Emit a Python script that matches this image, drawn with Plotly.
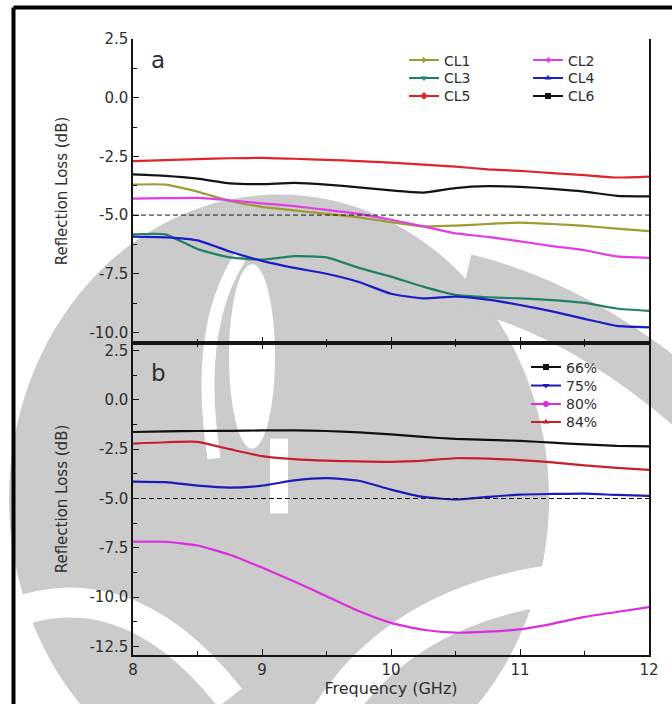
import plotly.graph_objects as go
from plotly.subplots import make_subplots

# ---------------- data ----------------
freq = [8.0, 8.25, 8.5, 8.75, 9.0, 9.25, 9.5, 9.75, 10.0, 10.25, 10.5, 10.75, 11.0, 11.25, 11.5, 11.75, 12.0]

cl1 = [-3.70, -3.70, -4.00, -4.40, -4.65, -4.80, -4.95, -5.10, -5.30, -5.48, -5.45, -5.38, -5.32, -5.38, -5.46, -5.58, -5.68]
cl2 = [-4.30, -4.28, -4.27, -4.37, -4.50, -4.62, -4.78, -4.95, -5.20, -5.48, -5.78, -5.93, -6.12, -6.32, -6.50, -6.76, -6.82]
cl3 = [-5.82, -5.82, -6.45, -6.80, -6.90, -6.75, -6.80, -7.25, -7.62, -8.05, -8.40, -8.50, -8.55, -8.62, -8.74, -8.98, -9.08]
cl4 = [-5.92, -5.95, -6.08, -6.55, -6.95, -7.25, -7.50, -7.85, -8.35, -8.55, -8.47, -8.60, -8.83, -9.10, -9.42, -9.72, -9.78]
cl5 = [-2.70, -2.66, -2.62, -2.58, -2.56, -2.60, -2.65, -2.70, -2.77, -2.85, -2.94, -3.05, -3.12, -3.21, -3.30, -3.40, -3.36]
cl6 = [-3.27, -3.33, -3.45, -3.65, -3.68, -3.63, -3.70, -3.82, -3.95, -4.04, -3.85, -3.77, -3.80, -3.88, -4.00, -4.18, -4.20]

p66 = [-1.63, -1.60, -1.58, -1.57, -1.55, -1.55, -1.58, -1.65, -1.75, -1.88, -1.98, -2.03, -2.08, -2.17, -2.26, -2.33, -2.36]
p75 = [-4.14, -4.17, -4.35, -4.45, -4.35, -4.08, -3.97, -4.10, -4.55, -4.92, -5.05, -4.92, -4.80, -4.77, -4.75, -4.82, -4.87]
p80 = [-7.19, -7.19, -7.38, -7.85, -8.50, -9.20, -9.95, -10.70, -11.30, -11.65, -11.80, -11.75, -11.63, -11.35, -11.00, -10.75, -10.50]
p84 = [-2.22, -2.15, -2.13, -2.50, -2.85, -3.00, -3.08, -3.12, -3.14, -3.08, -2.96, -2.98, -3.05, -3.17, -3.32, -3.45, -3.55]

threshold = -5.0

x_ticks = [8, 9, 10, 11, 12]
ya_ticks = [2.5, 0.0, -2.5, -5.0, -7.5, -10.0]
yb_ticks = [2.5, 0.0, -2.5, -5.0, -7.5, -10.0, -12.5]

# ---------------- geometry ----------------
W, H = 672, 704
L, R, T, B = 133, 23, 39, 47
PW, PH = W - L - R, H - T - B
top_h = 344 - T
row_heights = [top_h / PH, 1 - top_h / PH]


def px_x(x):
    return (x - L) / PW


def px_y(y):
    return (H - B - y) / PH


def svg(cmds):
    """cmds: list of (letter, [(x,y), ...]) in page pixels -> paper path string"""
    out = []
    for letter, pts in cmds:
        coords = " ".join(f"{px_x(x):.4f},{px_y(y):.4f}" for x, y in pts)
        out.append(f"{letter}{coords}")
    return " ".join(out)


FONT = "DejaVu Sans, Verdana, sans-serif"
TXT = "#2e2e2e"
AX = "#151515"
WM = "#cbcbcb"   # watermark grey

fig = make_subplots(rows=2, cols=1, shared_xaxes=True, vertical_spacing=0,
                    row_heights=row_heights)

# (name, values, colour, legend symbol, legend box left px, legend row centre px)
panel_a = [
    ("CL1", cl1, "#9c9c30", "triangle-right", 404, 60),
    ("CL2", cl2, "#e23ce8", "triangle-left", 528, 60),
    ("CL3", cl3, "#22806a", "triangle-down", 404, 78),
    ("CL4", cl4, "#1c1cc8", "triangle-up", 528, 78),
    ("CL5", cl5, "#e0242c", "diamond", 404, 96),
    ("CL6", cl6, "#141414", "square", 528, 96),
]
panel_b = [
    ("66%", p66, "#111111", "square", 526, 368),
    ("75%", p75, "#1c1cb8", "triangle-down", 526, 386.5),
    ("80%", p80, "#dc2ce0", "circle", 526, 405),
    ("84%", p84, "#c8202a", "triangle-up", 526, 423),
]

LEG_OFF = 15.5
legends = {}
k = 0
for row, group in ((1, panel_a), (2, panel_b)):
    for name, vals, col, sym, lx, ly in group:
        k += 1
        lname = "legend" if k == 1 else f"legend{k}"
        fig.add_trace(go.Scatter(x=freq, y=vals, mode="lines", name=name,
                                 line=dict(color=col, width=2.2, shape="spline", smoothing=0.5),
                                 showlegend=False), row=row, col=1)
        fig.add_trace(go.Scatter(x=[None], y=[None], mode="lines+markers", name=name,
                                 line=dict(color=col, width=2),
                                 marker=dict(symbol=sym, size=6, color=col),
                                 legend=lname, showlegend=True), row=row, col=1)
        legends[lname] = dict(bgcolor="rgba(0,0,0,0)", borderwidth=0,
                              xanchor="left", yanchor="top",
                              x=px_x(lx), y=px_y(ly - LEG_OFF),
                              font=dict(family=FONT, size=14, color=TXT),
                              itemwidth=30, orientation="v")

axis_common = dict(showline=True, linecolor=AX, linewidth=1.5, mirror=True,
                   showgrid=False, zeroline=False, ticks="inside", ticklen=6, tickwidth=1.3,
                   tickcolor=AX, tickfont=dict(family=FONT, size=15, color=TXT))

fig.update_xaxes(**axis_common, range=[8, 12], tickvals=x_ticks,
                 minor=dict(dtick=0.5, ticks="inside", ticklen=4, tickcolor=AX))
fig.update_xaxes(showticklabels=False, mirror=False, row=1, col=1)
fig.update_xaxes(mirror="ticks", row=2, col=1,
                 title=dict(text="Frequency (GHz)", font=dict(family=FONT, size=16, color=TXT), standoff=2))

fig.update_yaxes(**axis_common)
fig.update_yaxes(range=[-10.45, 2.5], tickvals=ya_ticks, ticktext=[f"{v:.1f}" for v in ya_ticks],
                 minor=dict(dtick=1.25, ticks="inside", ticklen=4, tickcolor=AX),
                 title=dict(text="Reflection Loss (dB)", font=dict(family=FONT, size=15, color=TXT), standoff=18),
                 row=1, col=1)
fig.update_yaxes(range=[-12.93, 2.88], tickvals=yb_ticks, ticktext=[f"{v:.1f}" for v in yb_ticks],
                 minor=dict(tick0=0, dtick=1.25, ticks="inside", ticklen=4, tickcolor=AX),
                 title=dict(text="Reflection Loss (dB)", font=dict(family=FONT, size=15, color=TXT), standoff=18),
                 row=2, col=1)

# ---------------- background watermark (approximate, drawn below everything) ----------------
wm = [
    # main grey body (dome reaching up into panel a)
    dict(type="circle", x0=px_x(9), x1=px_x(549), y0=px_y(195), y1=px_y(805),
         fillcolor=WM, line=dict(width=0)),
    # grey diagonal band on the right
    dict(type="path", path=svg([("M", [(465, 282)]), ("Q", [(580, 310), (690, 405)])]),
         line=dict(color=WM, width=55)),
    # white central lens
    dict(type="circle", x0=px_x(229), x1=px_x(275), y0=px_y(265), y1=px_y(450),
         fillcolor="white", line=dict(width=0)),
    # white crescent left of the lens
    dict(type="path", path=svg([("M", [(214, 460)]), ("Q", [(194, 330), (240, 258)])]),
         line=dict(color="white", width=13)),
    # white stem
    dict(type="rect", x0=px_x(270), x1=px_x(288), y0=px_y(515), y1=px_y(440),
         fillcolor="white", line=dict(width=0)),
    # white arch in lower part
    dict(type="path", path=svg([("M", [(330, 720)]), ("Q", [(430, 560), (700, 585)])]),
         line=dict(color="white", width=40)),
    # white arc lower left
    dict(type="path", path=svg([("M", [(-10, 625)]), ("Q", [(120, 560), (230, 700)])]),
         line=dict(color="white", width=30)),
]
for s in wm:
    s.update(xref="paper", yref="paper", layer="below")
    fig.add_shape(**s)

# threshold dashed lines
for r in (1, 2):
    fig.add_shape(type="line", x0=min(freq), x1=max(freq), y0=threshold, y1=threshold,
                  line=dict(color=AX, width=1, dash="5px,3px"), row=r, col=1)

# outer black frame (left and top edges visible)
fig.add_shape(type="line", xref="paper", yref="paper", x0=px_x(13.5), x1=px_x(700),
              y0=px_y(7.5), y1=px_y(7.5), line=dict(color="black", width=4))
fig.add_shape(type="line", xref="paper", yref="paper", x0=px_x(13.5), x1=px_x(13.5),
              y0=px_y(7.5), y1=px_y(720), line=dict(color="black", width=4))

# panel letters
for letter, ly in (("a", 60), ("b", 374)):
    fig.add_annotation(text=letter, xref="paper", yref="paper", x=px_x(149), y=px_y(ly),
                       xanchor="left", yanchor="middle", showarrow=False,
                       font=dict(family=FONT, size=23, color=TXT))

fig.update_layout(
    width=W, height=H,
    margin=dict(l=L, r=R, t=T, b=B),
    paper_bgcolor="white", plot_bgcolor="rgba(0,0,0,0)",
    font=dict(family=FONT, color=TXT),
    **legends,
)

fig.write_html("out.html")
